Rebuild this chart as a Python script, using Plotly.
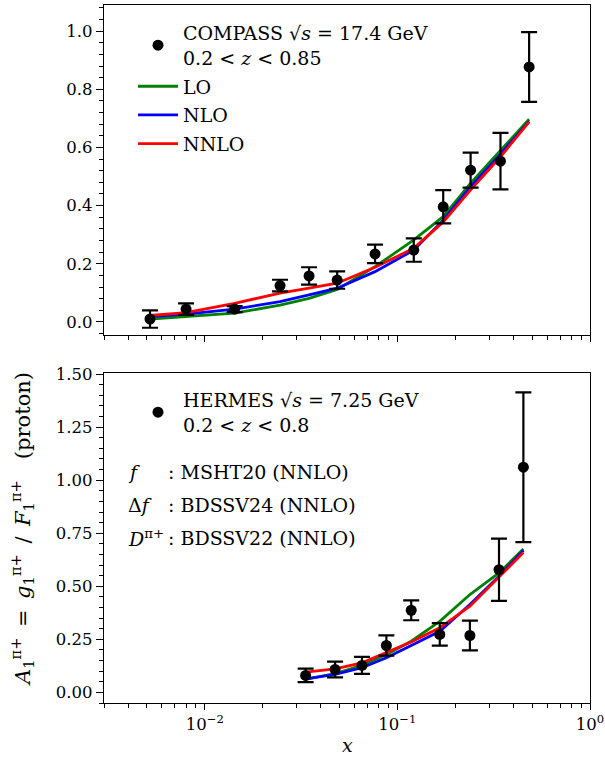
import plotly.graph_objects as go

# ---------------- data ----------------
# COMPASS (top panel)
compass_x = [0.0052, 0.0080, 0.0143, 0.0246, 0.0348, 0.0487, 0.0766, 0.1217, 0.173, 0.240, 0.343, 0.483]
compass_y = [0.010, 0.044, 0.044, 0.125, 0.158, 0.144, 0.234, 0.247, 0.396, 0.522, 0.553, 0.877]
compass_err = [0.030, 0.020, 0.010, 0.020, 0.030, 0.030, 0.032, 0.040, 0.057, 0.060, 0.097, 0.120]
compass_lo = [0.010, 0.018, 0.030, 0.058, 0.081, 0.112, 0.190, 0.282, 0.362, 0.477, 0.591, 0.697]
compass_nlo = [0.018, 0.027, 0.044, 0.070, 0.093, 0.116, 0.173, 0.247, 0.350, 0.465, 0.577, 0.690]
compass_nnlo = [0.022, 0.032, 0.064, 0.099, 0.116, 0.133, 0.188, 0.253, 0.344, 0.454, 0.568, 0.688]

# HERMES (bottom panel)
hermes_x = [0.0334, 0.0475, 0.0655, 0.0877, 0.118, 0.166, 0.238, 0.337, 0.451]
hermes_y = [0.080, 0.108, 0.127, 0.221, 0.387, 0.273, 0.268, 0.578, 1.061]
hermes_err = [0.032, 0.037, 0.040, 0.048, 0.047, 0.053, 0.070, 0.147, 0.353]
hermes_lo = [0.061, 0.089, 0.127, 0.179, 0.241, 0.335, 0.461, 0.563, 0.676]
hermes_nlo = [0.064, 0.085, 0.116, 0.163, 0.221, 0.288, 0.414, 0.547, 0.669]
hermes_nnlo = [0.095, 0.111, 0.139, 0.189, 0.237, 0.304, 0.406, 0.544, 0.659]

x_major = [0.01, 0.1, 1.0]
x_major_text = ["10<sup>−2</sup>", "10<sup>−1</sup>", "10<sup>0</sup>"]
x_minor = [m * d for d in (0.001, 0.01, 0.1) for m in range(2, 10)]

FONT = "DejaVu Serif"
W, H = 605, 761
ML, MR, MT, MB = 104, 15, 5, 58
PH = H - MT - MB
PW = W - ML - MR


def py(pix):
    return (H - MB - pix) / PH


def px(pix):
    return (pix - ML) / PW


fig = go.Figure()

colors = {"LO": "#008000", "NLO": "#0000ff", "NNLO": "#ff0000"}

# top panel curves
for name, vals in (("LO", compass_lo), ("NLO", compass_nlo), ("NNLO", compass_nnlo)):
    fig.add_trace(go.Scatter(x=compass_x, y=vals, mode="lines", name=name,
                             line=dict(color=colors[name], width=2.8),
                             xaxis="x", yaxis="y", legend="legend",
                             legendgroup=name,
                             legendrank={"LO": 2, "NLO": 3, "NNLO": 4}[name]))
fig.add_trace(go.Scatter(x=compass_x, y=compass_y, mode="markers",
                         name="COMPASS √<i>s</i> = 17.4 GeV<br>0.2 &lt; <i>z</i> &lt; 0.85",
                         marker=dict(color="black", size=11),
                         error_y=dict(type="data", array=compass_err, color="black",
                                      thickness=2.2, width=8),
                         xaxis="x", yaxis="y", legend="legend", legendgroup="data",
                         legendrank=1))

# bottom panel curves
for name, vals in (("LO", hermes_lo), ("NLO", hermes_nlo), ("NNLO", hermes_nnlo)):
    fig.add_trace(go.Scatter(x=hermes_x, y=vals, mode="lines", name=name,
                             line=dict(color=colors[name], width=2.8),
                             xaxis="x2", yaxis="y2", showlegend=False))
fig.add_trace(go.Scatter(x=hermes_x, y=hermes_y, mode="markers",
                         name="HERMES √<i>s</i> = 7.25 GeV<br>0.2 &lt; <i>z</i> &lt; 0.8",
                         marker=dict(color="black", size=11),
                         error_y=dict(type="data", array=hermes_err, color="black",
                                      thickness=2.2, width=8),
                         xaxis="x2", yaxis="y2", legend="legend2"))

axis_common = dict(showline=True, linecolor="black", linewidth=1.3, mirror=True,
                   ticks="outside", tickcolor="black", tickwidth=1.2,
                   showgrid=False, zeroline=False, automargin=False,
                   tickfont=dict(family=FONT, size=16.5, color="black"))

xaxis_common = dict(axis_common, type="log", range=[-2.5229, 0],
                    tickmode="array", tickvals=x_major, ticklen=6,
                    minor=dict(tickmode="array", tickvals=x_minor, ticks="outside",
                               ticklen=3.5, tickwidth=1, tickcolor="black"))

fig.update_layout(
    width=W, height=H,
    margin=dict(l=ML, r=MR, t=MT, b=MB, autoexpand=False),
    paper_bgcolor="white", plot_bgcolor="white",
    font=dict(family=FONT, size=19, color="black"),
    xaxis=dict(xaxis_common, domain=[0, 1], anchor="y", showticklabels=False,
               ticktext=x_major_text),
    yaxis=dict(axis_common, domain=[py(335), 1.0], anchor="x",
               range=[-0.045, 1.09], tickmode="array",
               tickvals=[0.0, 0.2, 0.4, 0.6, 0.8, 1.0],
               ticktext=["0.0", "0.2", "0.4", "0.6", "0.8", "1.0"], ticklen=7,
               minor=dict(dtick=0.04, tick0=0, ticks="outside", ticklen=4,
                          tickwidth=1, tickcolor="black")),
    xaxis2=dict(xaxis_common, domain=[0, 1], anchor="y2", ticktext=x_major_text),
    yaxis2=dict(axis_common, domain=[0, py(373)], anchor="x2",
                range=[-0.05, 1.505], tickmode="array",
                tickvals=[0.0, 0.25, 0.5, 0.75, 1.0, 1.25, 1.5],
                ticktext=["0.00", "0.25", "0.50", "0.75", "1.00", "1.25", "1.50"], ticklen=7,
                minor=dict(dtick=0.05, tick0=0, ticks="outside", ticklen=4,
                           tickwidth=1, tickcolor="black")),
    legend=dict(x=px(133), y=py(14), xanchor="left", yanchor="top",
                bgcolor="rgba(0,0,0,0)", borderwidth=0,
                font=dict(family=FONT, size=19, color="black"),
                traceorder="grouped", tracegroupgap=1, itemwidth=40),
    legend2=dict(x=px(133), y=py(381), xanchor="left", yanchor="top",
                 bgcolor="rgba(0,0,0,0)", borderwidth=0,
                 font=dict(family=FONT, size=19, color="black"), itemwidth=40),
)

# text block in bottom panel
rows = [("<i>f</i>", ": MSHT20 (NNLO)", 472),
        ("Δ<i>f</i>", ": BDSSV24 (NNLO)", 505),
        ("<i>D</i><sup>π+</sup>", ": BDSSV22 (NNLO)", 538)]
for lab, txt, ypix in rows:
    fig.add_annotation(xref="paper", yref="paper", x=px(126), y=py(ypix),
                       xanchor="left", yanchor="middle", text=lab, showarrow=False,
                       font=dict(family=FONT, size=19, color="black"))
    fig.add_annotation(xref="paper", yref="paper", x=px(166), y=py(ypix),
                       xanchor="left", yanchor="middle", text=txt, showarrow=False,
                       font=dict(family=FONT, size=19, color="black"))

# y-axis label
fig.add_annotation(xref="paper", yref="paper", x=px(22), y=py(529),
                   xanchor="center", yanchor="middle", textangle=-90, showarrow=False,
                   text="<i>A</i><sub>1</sub><sup>π+</sup>\u2002=\u2002<i>g</i><sub>1</sub><sup>π+</sup>\u2002/\u2002"
                        "<i>F</i><sub>1</sub><sup>π+</sup>\u2002\u2002(proton)",
                   font=dict(family=FONT, size=21, color="black"))

# x-axis label
fig.add_annotation(xref="paper", yref="paper", x=px(347), y=py(745),
                   xanchor="center", yanchor="middle", showarrow=False,
                   text="<i>x</i>", font=dict(family=FONT, size=19, color="black"))

fig.write_html("out.html", config={"displayModeBar": False},
               post_script="document.body.style.margin='0px';")
